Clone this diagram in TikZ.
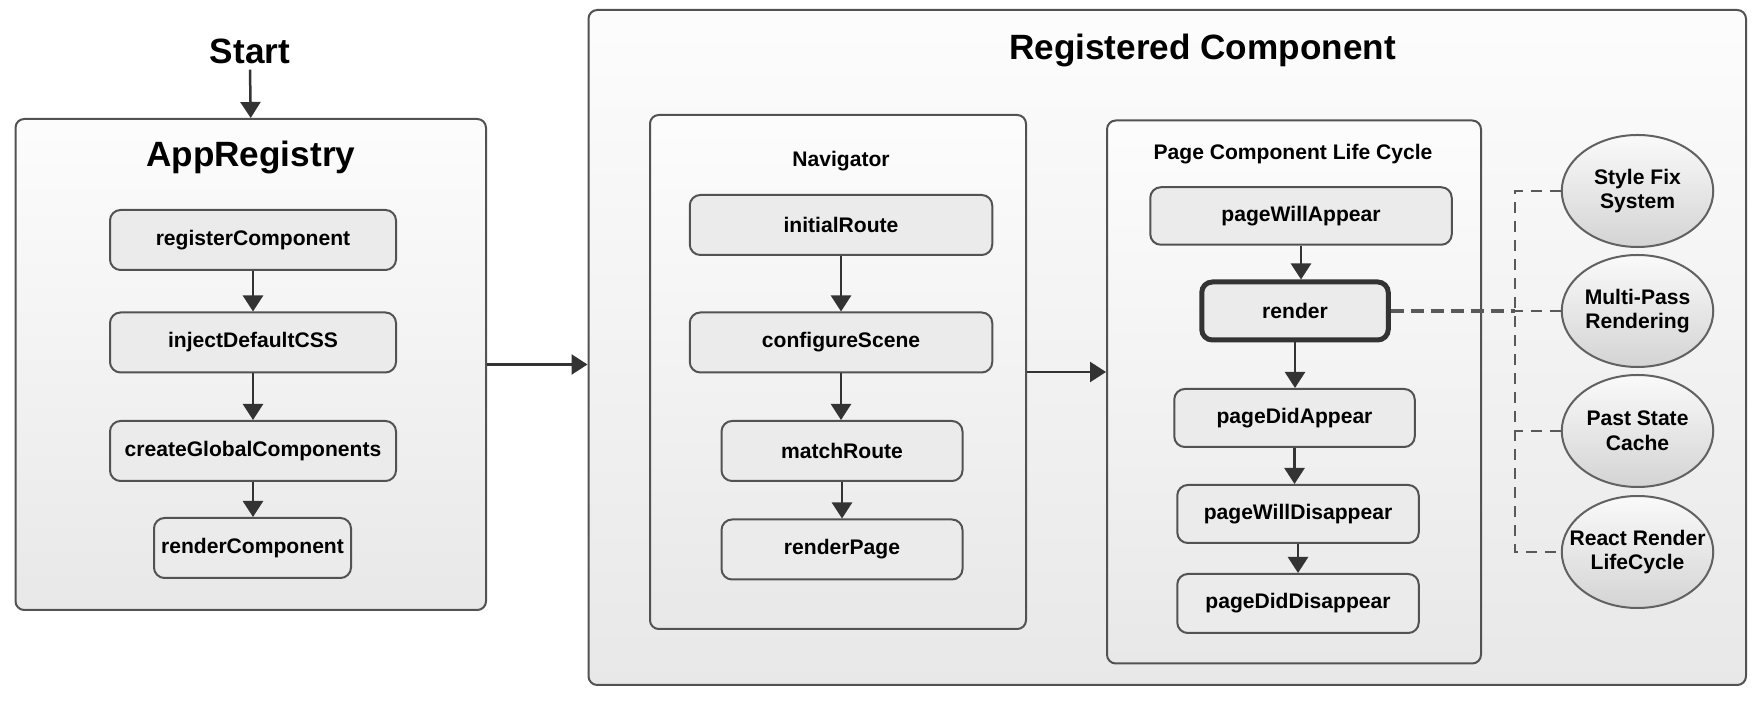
\documentclass[tikz,border=0pt]{standalone}
\usepackage{fontspec}
\setmainfont{Liberation Sans}
\usetikzlibrary{arrows.meta,shapes.geometric}
\tikzset{
	panel/.style={draw=black!68, line width=0.4mm, rounded corners=5pt, top color=black!1, bottom color=black!9},
	stepbox/.style={draw=black!68, line width=0.4mm, rounded corners=6pt, fill=black!8, minimum height=1.2cm, font=\bfseries\fontsize{12}{14}\selectfont},
	bubble/.style={ellipse, draw=black!62, line width=0.4mm, top color=black!2, bottom color=black!17, minimum width=3.03cm, minimum height=2.24cm, inner xsep=-9pt, inner ysep=0pt, align=center, font=\bfseries\fontsize{12}{14}\selectfont},
	flow/.style={-{Triangle[length=3.2mm,width=4mm]}, draw=black!80, line width=0.5mm},
	hook/.style={draw=black!65, line width=0.35mm, dash pattern=on 2.1mm off 1.7mm},
	bigtitle/.style={font=\bfseries\fontsize{20}{24}\selectfont},
	subtitle/.style={font=\bfseries\fontsize{12}{14}\selectfont}
}

\begin{document}
\begin{tikzpicture}
	%%%%% START %%%%%
	\path[use as bounding box, fill=white] (0, 0) rectangle (35.28, 14.12);

	% app registry
	\node[bigtitle] (start) at (5.0, 13.10) {Start};
	\node[panel, minimum width=9.41cm, minimum height=9.82cm] (app) at (5.015, 6.83) {};
	\node[bigtitle] (apptitle) at (5.015, 10.97) {AppRegistry};
	\node[stepbox, minimum width=5.72cm] (regcomp) at (5.06, 9.32) {registerComponent};
	\node[stepbox, minimum width=5.72cm] (inject) at (5.06, 7.27) {injectDefaultCSS};
	\node[stepbox, minimum width=5.72cm] (global) at (5.06, 5.10) {createGlobalComponents};
	\node[stepbox, minimum width=3.94cm] (rcomp) at (5.05, 3.16) {renderComponent};

	\draw[flow] (start.south) -- (app.north);
	\draw[flow] (regcomp.south) -- (regcomp.south |- inject.north);
	\draw[flow] (inject.south) -- (inject.south |- global.north);
	\draw[flow] (global.south) -- (global.south |- rcomp.north);

	% registered component
	\node[panel, minimum width=23.15cm, minimum height=13.5cm] (reg) at (23.345, 7.17) {};
	\node[bigtitle] (regtitle) at (24.05, 13.11) {Registered Component};

	\draw[flow] (app.east) -- (app.east -| reg.west);

	% navigator
	\node[panel, minimum width=7.52cm, minimum height=10.28cm] (nav) at (16.76, 6.68) {};
	\node[subtitle] (navtitle) at (16.82, 10.90) {Navigator};
	\node[stepbox, minimum width=6.05cm] (initial) at (16.82, 9.62) {initialRoute};
	\node[stepbox, minimum width=6.05cm] (scene) at (16.82, 7.27) {configureScene};
	\node[stepbox, minimum width=4.82cm] (match) at (16.84, 5.10) {matchRoute};
	\node[stepbox, minimum width=4.82cm] (rpage) at (16.84, 3.13) {renderPage};

	\draw[flow] (initial.south) -- (initial.south |- scene.north);
	\draw[flow] (scene.south) -- (scene.south |- match.north);
	\draw[flow] (match.south) -- (match.south |- rpage.north);

	% page life cycle
	\node[panel, minimum width=7.48cm, minimum height=10.86cm] (page) at (25.88, 6.28) {};
	\node[subtitle] (pagetitle) at (25.86, 11.03) {Page Component Life Cycle};
	\node[stepbox, minimum width=6.03cm, minimum height=1.15cm] (pwa) at (26.02, 9.80) {pageWillAppear};
	\node[stepbox, minimum width=3.73cm, minimum height=1.16cm, draw=black!80, line width=1mm] (rnd) at (25.90, 7.90) {render};
	\node[stepbox, minimum width=4.81cm, minimum height=1.16cm] (pda) at (25.89, 5.76) {pageDidAppear};
	\node[stepbox, minimum width=4.83cm, minimum height=1.16cm] (pwd) at (25.96, 3.84) {pageWillDisappear};
	\node[stepbox, minimum width=4.83cm, minimum height=1.18cm] (pdd) at (25.96, 2.05) {pageDidDisappear};

	\draw[flow] (nav.east) -- (nav.east -| page.west);
	\draw[flow] (pwa.south) -- (pwa.south |- rnd.north);
	\draw[flow] (rnd.south) -- (rnd.south |- pda.north);
	\draw[flow] (pda.south) -- (pda.south |- pwd.north);
	\draw[flow] (pwd.south) -- (pwd.south |- pdd.north);

	% render helpers
	\node[bubble] (fix) at (32.75, 10.30) {Style Fix\\System};
	\node[bubble] (multi) at (32.75, 7.90) {Multi-Pass\\Rendering};
	\node[bubble] (cache) at (32.75, 5.50) {Past State\\Cache};
	\node[bubble] (react) at (32.75, 3.08) {React Render\\LifeCycle};

	\coordinate (bus) at (30.30, 0);
	\draw[hook] (fix.west) -- (fix.west -| bus) -- (react.west -| bus) -- (react.west);
	\draw[hook] (multi.west) -- (multi.west -| bus);
	\draw[hook] (cache.west) -- (cache.west -| bus);
	\draw[hook, line width=0.7mm, dash pattern=on 2.6mm off 1.4mm] (rnd.east) -- (rnd.east -| bus);

	%%%%% END %%%%%
\end{tikzpicture}
\end{document}
